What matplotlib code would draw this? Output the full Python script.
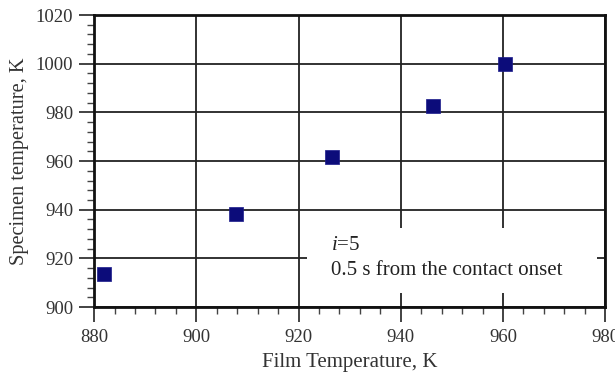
import matplotlib.pyplot as plt
from matplotlib.patches import Rectangle
from matplotlib.ticker import MultipleLocator

# film temperature vs specimen temperature
film_temp = [882.0, 907.8, 926.5, 946.3, 960.4]
specimen_temp = [913.6, 938.1, 961.6, 982.5, 999.9]

xticks = [880, 900, 920, 940, 960, 980]
yticks = [900, 920, 940, 960, 980, 1000, 1020]

plt.rcParams['font.family'] = ['Liberation Serif', 'DejaVu Serif']
plt.rcParams['mathtext.fontset'] = 'custom'
plt.rcParams['mathtext.it'] = 'Liberation Serif:italic'
plt.rcParams['mathtext.rm'] = 'Liberation Serif'

fig = plt.figure(figsize=(6.15, 3.75), dpi=100)
ax = fig.add_axes([0.153, 0.181, 0.831, 0.779])

ax.set_xlim(880, 980)
ax.set_ylim(900, 1020)
ax.set_xticks(xticks)
ax.set_yticks(yticks)
ax.xaxis.set_minor_locator(MultipleLocator(4))
ax.yaxis.set_minor_locator(MultipleLocator(4))

ax.grid(True, which='major', color='#222222', linewidth=1.3, zorder=1)
ax.set_axisbelow(True)

ax.tick_params(which='major', direction='out', length=11, width=1.2,
               labelsize=13.5, pad=4, colors='#222222', labelcolor='#333333')
ax.tick_params(which='minor', direction='out', length=5, width=1.0, colors='#444444')
ax.tick_params(axis='x', which='major', pad=5)
for s in ax.spines.values():
    s.set_linewidth(2.0)
    s.set_color('#111111')

ax.scatter(film_temp, specimen_temp, marker='s', s=95, color='#0c0c7a',
           edgecolors='#1a1a8a', linewidths=0.5, zorder=4)

# white box hiding grid behind the note
ax.add_patch(Rectangle((0.417, 0.048), 0.567, 0.223, transform=ax.transAxes,
                       facecolor='white', edgecolor='none', zorder=2))
ax.text(0.464, 0.212, r'$i$=5', transform=ax.transAxes, fontsize=15,
        va='center', ha='left', color='#222222', zorder=3)
ax.text(0.464, 0.127, '0.5 s from the contact onset', transform=ax.transAxes,
        fontsize=15, va='center', ha='left', color='#222222', zorder=3)

ax.set_xlabel('Film Temperature, K', fontsize=15, color='#333333', labelpad=5)
ax.set_ylabel('Specimen temperature, K', fontsize=14.7, color='#333333', labelpad=5)

fig.savefig('out.png', dpi=100)
